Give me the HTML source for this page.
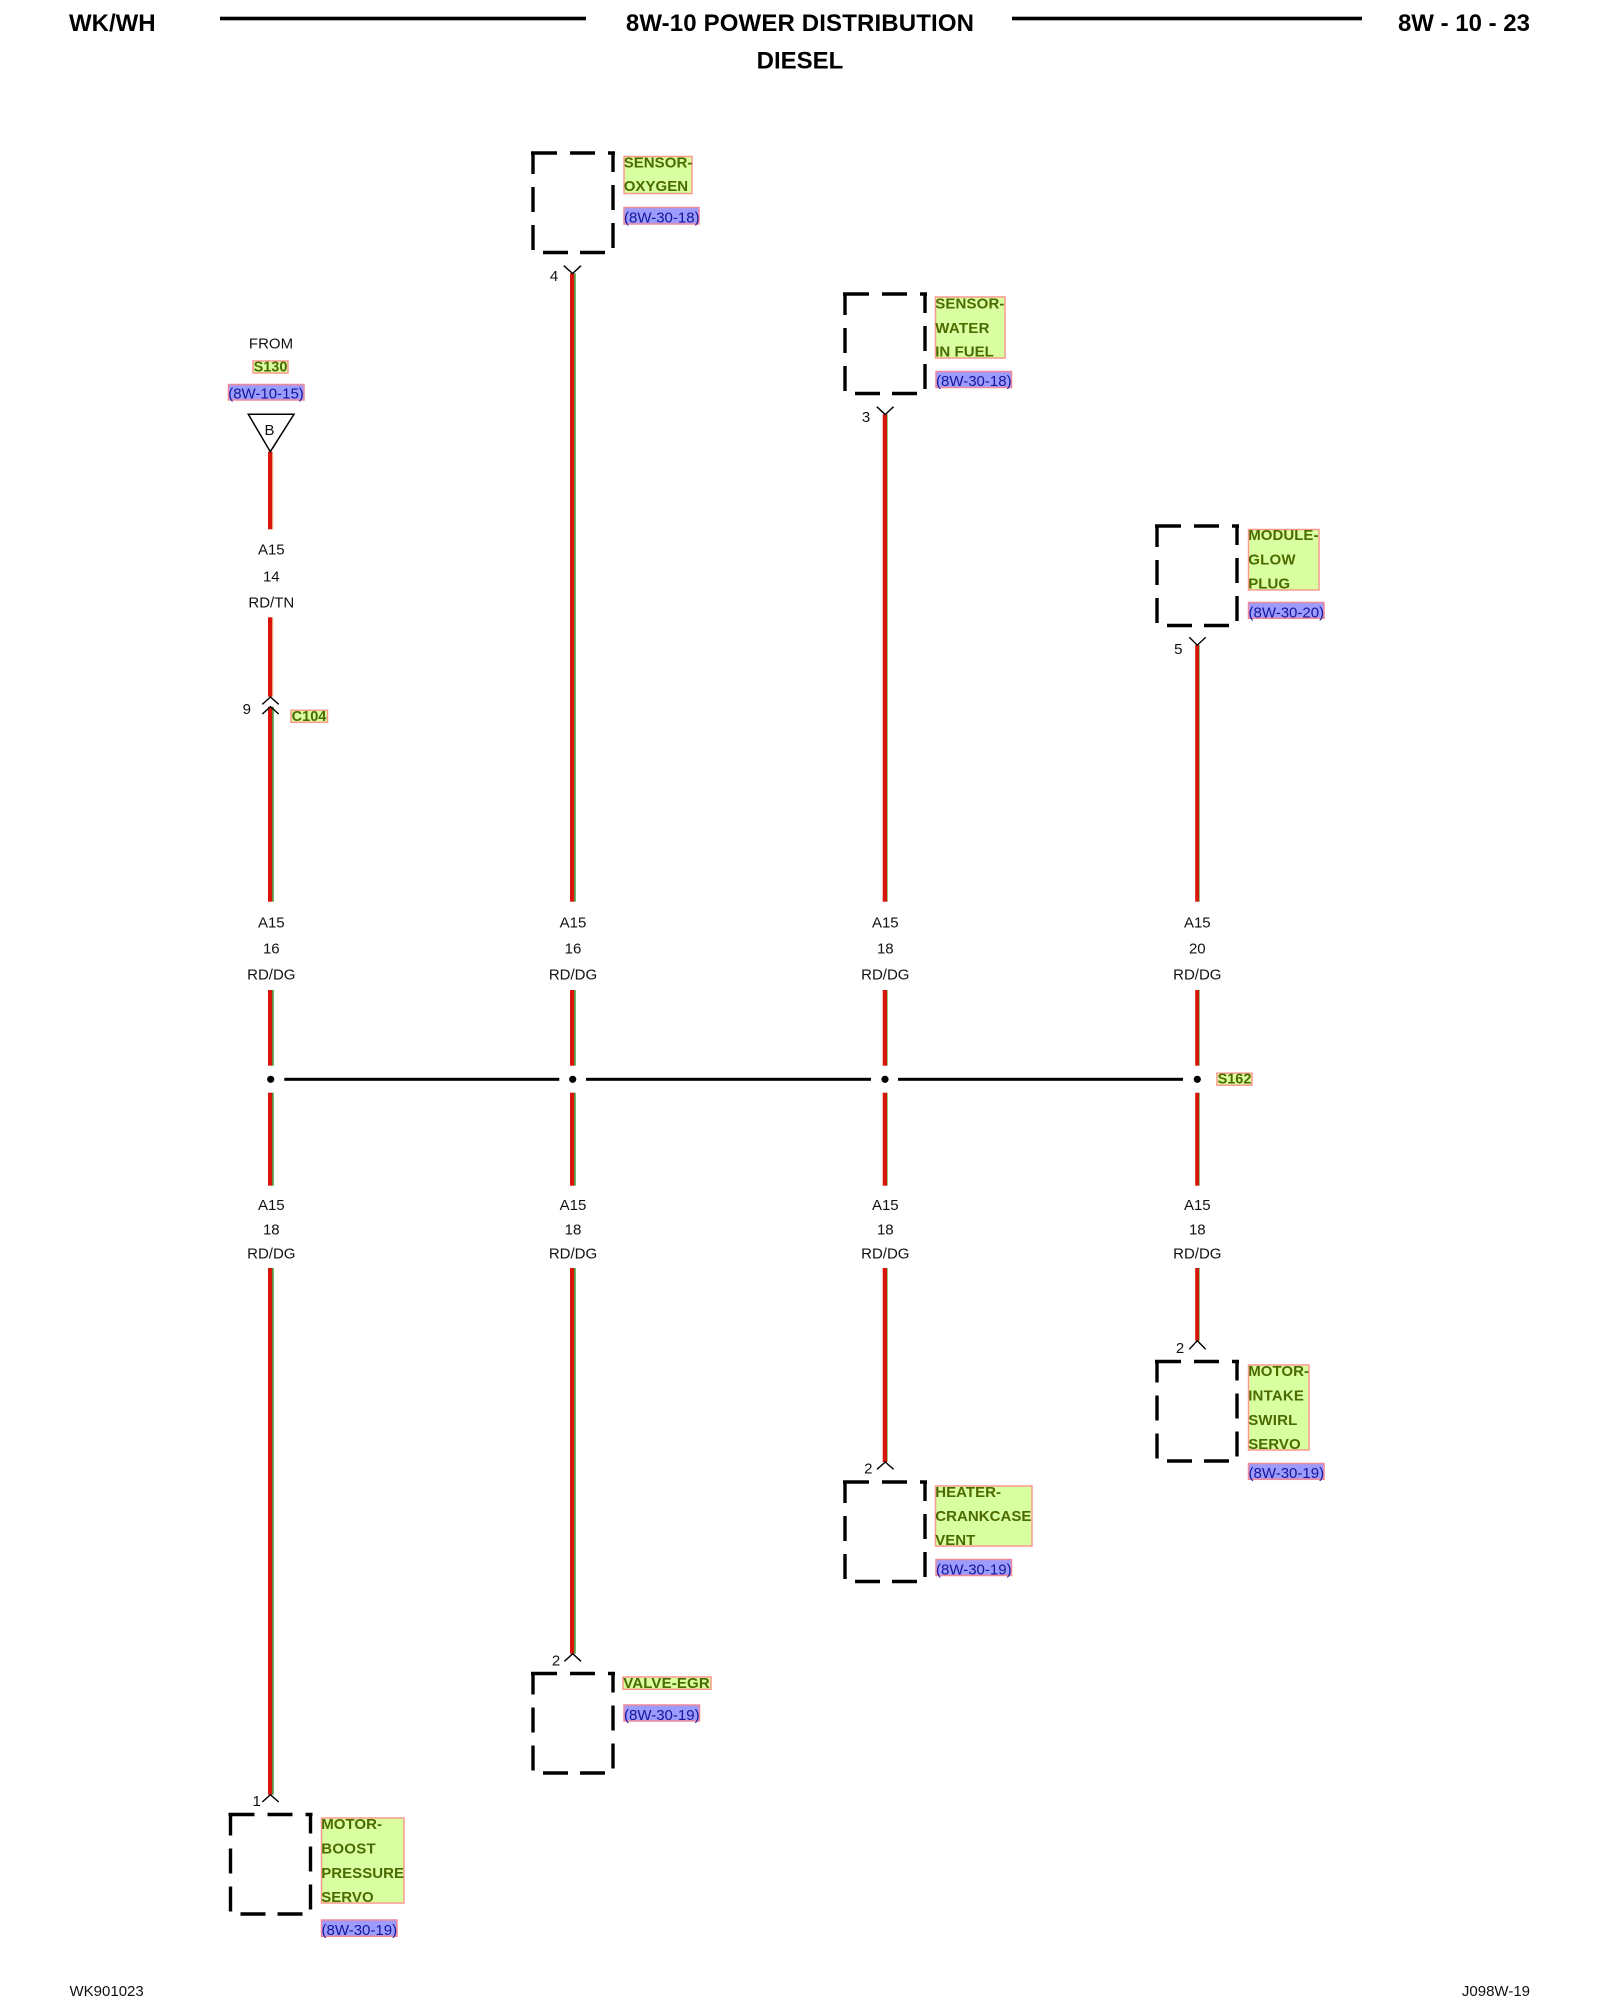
<!DOCTYPE html>
<html lang="en">
<head>
<meta charset="utf-8">
<title>8W-10 Power Distribution Diesel</title>
<style>
html,body{margin:0;padding:0;background:#fff;width:1600px;height:2000px;overflow:hidden}
svg{display:block}
text{font-family:"Liberation Sans",sans-serif}
.h{font-size:24px;font-weight:700;fill:#000}
.t{font-size:15px;fill:#111}
.c{text-anchor:middle}
.n{font-size:15px;font-weight:700;fill:#4c6a00;letter-spacing:.05px}
.s{font-size:14.5px;font-weight:700;fill:#4c6a00}
.r{font-size:15px;fill:#16169a}
.gb{fill:#d8ffa0;stroke:#f99a8c;stroke-width:1.5}
.bb{fill:#9c9cff;stroke:#f08a9a;stroke-width:1.5}
.chev{fill:none;stroke:#000;stroke-width:1.4}
.red{fill:#d9140a}
.grn{fill:#2f9a2f}
.lg{fill:#7ab870}
</style>
</head>
<body>
<svg width="1600" height="2000" viewBox="0 0 1600 2000" xmlns="http://www.w3.org/2000/svg">
<defs>
<g id="box" fill="none" stroke="#000" stroke-width="3.4">
<path d="M-40 21V0M-42 0H-16M-3 0H22M35 0H42"/>
<path d="M-40 34V59M-40 72V97"/>
<path d="M40 -1V19M40 32V57M40 70V95"/>
<path d="M-30 99.5H-5M7 99.5H32"/>
</g>
</defs>
<rect width="1600" height="2000" fill="#fff"/>

<!-- header -->
<text class="h" x="69" y="31">WK/WH</text>
<rect x="220" y="16.7" width="366" height="3.6" fill="#000"/>
<text class="h c" x="800" y="31" style="letter-spacing:.14px">8W-10 POWER DISTRIBUTION</text>
<rect x="1012" y="16.7" width="350" height="3.6" fill="#000"/>
<text class="h" x="1530" y="31" text-anchor="end">8W - 10 - 23</text>
<text class="h c" x="800" y="68.7">DIESEL</text>

<!-- bus -->
<g fill="#000">
<rect x="284.3" y="1077.8" width="275" height="3"/>
<rect x="586" y="1077.8" width="285" height="3"/>
<rect x="898" y="1077.8" width="285" height="3"/>
<circle cx="270.7" cy="1079.3" r="3.6"/>
<circle cx="572.7" cy="1079.3" r="3.6"/>
<circle cx="885" cy="1079.3" r="3.6"/>
<circle cx="1197.3" cy="1079.3" r="3.6"/>
</g>

<!-- column 1 wires -->
<rect x="268" y="451.7" width="4" height="77.6" class="red"/>
<rect x="272" y="451.7" width="1.2" height="77.6" fill="#eaa878"/>
<rect x="268" y="617.3" width="4" height="79.4" class="red"/>
<rect x="272" y="617.3" width="1.2" height="79.4" fill="#eaa878"/>
<rect x="268" y="706.7" width="4.3" height="195" class="red"/>
<rect x="272.3" y="706.7" width="1.4" height="195" class="grn"/>
<rect x="268" y="990" width="4.3" height="75.7" class="red"/>
<rect x="272.3" y="990" width="1.4" height="75.7" class="grn"/>
<rect x="268" y="1092.7" width="4.3" height="93" class="red"/>
<rect x="272.3" y="1092.7" width="1.4" height="93" class="grn"/>
<rect x="268" y="1268" width="4.3" height="526.7" class="red"/>
<rect x="272.3" y="1268" width="1.4" height="526.7" class="grn"/>

<!-- column 2 wires -->
<rect x="570" y="273.3" width="4.3" height="628.4" class="red"/>
<rect x="574.3" y="273.3" width="1.4" height="628.4" class="grn"/>
<rect x="570" y="990" width="4.3" height="75.7" class="red"/>
<rect x="574.3" y="990" width="1.4" height="75.7" class="grn"/>
<rect x="570" y="1092.7" width="4.3" height="93" class="red"/>
<rect x="574.3" y="1092.7" width="1.4" height="93" class="grn"/>
<rect x="570" y="1268" width="4.3" height="385.7" class="red"/>
<rect x="574.3" y="1268" width="1.4" height="385.7" class="grn"/>

<!-- column 3 wires -->
<rect x="882.7" y="414.3" width="4.3" height="487.4" class="red"/>
<rect x="887" y="414.3" width="0.8" height="487.4" class="lg"/>
<rect x="882.7" y="990" width="4.3" height="75.7" class="red"/>
<rect x="887" y="990" width="0.8" height="75.7" class="lg"/>
<rect x="882.7" y="1092.7" width="4.3" height="93" class="red"/>
<rect x="887" y="1092.7" width="0.8" height="93" class="lg"/>
<rect x="882.7" y="1268" width="4.3" height="194" class="red"/>
<rect x="887" y="1268" width="0.8" height="194" class="lg"/>

<!-- column 4 wires -->
<rect x="1195.2" y="645" width="3.8" height="256.7" class="red"/>
<rect x="1199" y="645" width="0.9" height="256.7" class="lg"/>
<rect x="1195.2" y="990" width="3.8" height="75.7" class="red"/>
<rect x="1199" y="990" width="0.9" height="75.7" class="lg"/>
<rect x="1195.2" y="1092.7" width="3.8" height="93" class="red"/>
<rect x="1199" y="1092.7" width="0.9" height="93" class="lg"/>
<rect x="1195.2" y="1268" width="3.8" height="72.7" class="red"/>
<rect x="1199" y="1268" width="0.9" height="72.7" class="lg"/>

<!-- wire labels -->
<g class="t c">
<text x="271.3" y="554.5">A15</text><text x="271.3" y="581.7">14</text><text x="271.3" y="607.5">RD/TN</text>
<text x="271.3" y="927.6">A15</text><text x="271.3" y="953.6">16</text><text x="271.3" y="979.6">RD/DG</text>
<text x="573" y="927.6">A15</text><text x="573" y="953.6">16</text><text x="573" y="979.6">RD/DG</text>
<text x="885.3" y="927.6">A15</text><text x="885.3" y="953.6">18</text><text x="885.3" y="979.6">RD/DG</text>
<text x="1197.3" y="927.6">A15</text><text x="1197.3" y="953.6">20</text><text x="1197.3" y="979.6">RD/DG</text>
<text x="271.3" y="1210">A15</text><text x="271.3" y="1234.6">18</text><text x="271.3" y="1258.6">RD/DG</text>
<text x="573" y="1210">A15</text><text x="573" y="1234.6">18</text><text x="573" y="1258.6">RD/DG</text>
<text x="885.3" y="1210">A15</text><text x="885.3" y="1234.6">18</text><text x="885.3" y="1258.6">RD/DG</text>
<text x="1197.3" y="1210">A15</text><text x="1197.3" y="1234.6">18</text><text x="1197.3" y="1258.6">RD/DG</text>
</g>

<!-- FROM block -->
<text class="t c" x="271" y="348.6">FROM</text>
<rect class="gb" x="253" y="361" width="35" height="12"/>
<text class="s c" x="270.5" y="371.4">S130</text>
<rect class="bb" x="228.5" y="384.5" width="75.5" height="15.5"/>
<text class="r c" x="266" y="398.5">(8W-10-15)</text>
<path d="M248.3 414.3H294L270.3 451.7Z" fill="#fff" stroke="#000" stroke-width="1.5"/>
<text class="t c" x="269.5" y="435.2">B</text>

<!-- C104 -->
<path class="chev" d="M262.3 704.3L270.5 697L278.7 704.3M262.3 714L270.5 706.7L278.7 714"/>
<text class="t c" x="246.8" y="713.8">9</text>
<rect class="gb" x="291" y="710.3" width="36.5" height="12"/>
<text class="s c" x="309" y="721">C104</text>

<!-- S162 -->
<rect class="gb" x="1217" y="1073.2" width="35" height="12"/>
<text class="s c" x="1234.5" y="1083.7">S162</text>

<!-- boxes -->
<use href="#box" x="573" y="153"/>
<use href="#box" x="885" y="294"/>
<use href="#box" x="1197" y="526"/>
<use href="#box" x="1197" y="1361.5"/>
<use href="#box" x="885" y="1482"/>
<use href="#box" x="573" y="1673.5"/>
<use href="#box" x="270.5" y="1814.5"/>

<!-- connector chevrons -->
<path class="chev" d="M563.8 265.7L572.6 273.5L581 265.7"/>
<text class="t c" x="554" y="281">4</text>
<path class="chev" d="M876.8 406.7L885.2 414.5L893.6 406.7"/>
<text class="t c" x="866" y="422">3</text>
<path class="chev" d="M1189.3 637.3L1197.3 645.2L1205.7 637.3"/>
<text class="t c" x="1178.3" y="654">5</text>
<path class="chev" d="M1189.3 1349.3L1197.3 1340.7L1205.7 1349.3"/>
<text class="t c" x="1180" y="1352.8">2</text>
<path class="chev" d="M877 1469.3L885.3 1462L893.6 1469.3"/>
<text class="t c" x="868.3" y="1473.5">2</text>
<path class="chev" d="M564.4 1661.3L572.7 1653.7L581 1661.3"/>
<text class="t c" x="556" y="1665.6">2</text>
<path class="chev" d="M262.3 1802L270.4 1794.7L278.7 1802"/>
<text class="t c" x="256.7" y="1806.2">1</text>

<!-- SENSOR-OXYGEN -->
<rect class="gb" x="624" y="156.5" width="68" height="37"/>
<text class="n" x="623.7" y="167.6">SENSOR-</text>
<text class="n" x="623.7" y="191.2">OXYGEN</text>
<rect class="bb" x="624" y="207.5" width="75" height="16.5"/>
<text class="r" x="624" y="222.3">(8W-30-18)</text>

<!-- SENSOR-WATER IN FUEL -->
<rect class="gb" x="935.5" y="297" width="69.5" height="61"/>
<text class="n" x="935.2" y="308.5" style="letter-spacing:.15px">SENSOR-</text>
<text class="n" x="935.2" y="332.8" style="letter-spacing:.3px">WATER</text>
<text class="n" x="935.2" y="356.6">IN FUEL</text>
<rect class="bb" x="936" y="371.5" width="75.5" height="16"/>
<text class="r" x="936" y="386">(8W-30-18)</text>

<!-- MODULE-GLOW PLUG -->
<rect class="gb" x="1248.5" y="529.5" width="70.5" height="60.5"/>
<text class="n" x="1248.2" y="539.8">MODULE-</text>
<text class="n" x="1248.2" y="564.5" style="letter-spacing:.25px">GLOW</text>
<text class="n" x="1248.2" y="588.4">PLUG</text>
<rect class="bb" x="1248.5" y="602.5" width="75.5" height="15.8"/>
<text class="r" x="1248.5" y="617.3">(8W-30-20)</text>

<!-- MOTOR-INTAKE SWIRL SERVO -->
<rect class="gb" x="1248.5" y="1365" width="60.5" height="85"/>
<text class="n" x="1248.2" y="1376">MOTOR-</text>
<text class="n" x="1248.2" y="1400.5" style="letter-spacing:.2px">INTAKE</text>
<text class="n" x="1248.2" y="1424.8" style="letter-spacing:.2px">SWIRL</text>
<text class="n" x="1248.2" y="1449.2">SERVO</text>
<rect class="bb" x="1248.5" y="1463.5" width="75.5" height="15.8"/>
<text class="r" x="1248.5" y="1477.8">(8W-30-19)</text>

<!-- HEATER-CRANKCASE VENT -->
<rect class="gb" x="935.5" y="1486" width="96.5" height="60"/>
<text class="n" x="935.2" y="1496.8">HEATER-</text>
<text class="n" x="935.2" y="1520.8">CRANKCASE</text>
<text class="n" x="935.2" y="1545.2">VENT</text>
<rect class="bb" x="936" y="1559.5" width="75.5" height="16"/>
<text class="r" x="936" y="1574.5">(8W-30-19)</text>

<!-- VALVE-EGR -->
<rect class="gb" x="623" y="1677" width="88" height="12.3"/>
<text class="n" x="623.2" y="1687.8" style="letter-spacing:.15px">VALVE-EGR</text>
<rect class="bb" x="624" y="1705" width="75.5" height="16"/>
<text class="r" x="624" y="1720">(8W-30-19)</text>

<!-- MOTOR-BOOST PRESSURE SERVO -->
<rect class="gb" x="321.5" y="1818" width="82.5" height="85"/>
<text class="n" x="321.2" y="1828.8">MOTOR-</text>
<text class="n" x="321.2" y="1853.5" style="letter-spacing:.3px">BOOST</text>
<text class="n" x="321.2" y="1877.8">PRESSURE</text>
<text class="n" x="321.2" y="1902.2">SERVO</text>
<rect class="bb" x="321.5" y="1920" width="75.5" height="16.3"/>
<text class="r" x="321.5" y="1934.8">(8W-30-19)</text>

<!-- footer -->
<text class="t" x="69.5" y="1996">WK901023</text>
<text class="t" x="1530" y="1996" text-anchor="end">J098W-19</text>
</svg>
</body>
</html>
